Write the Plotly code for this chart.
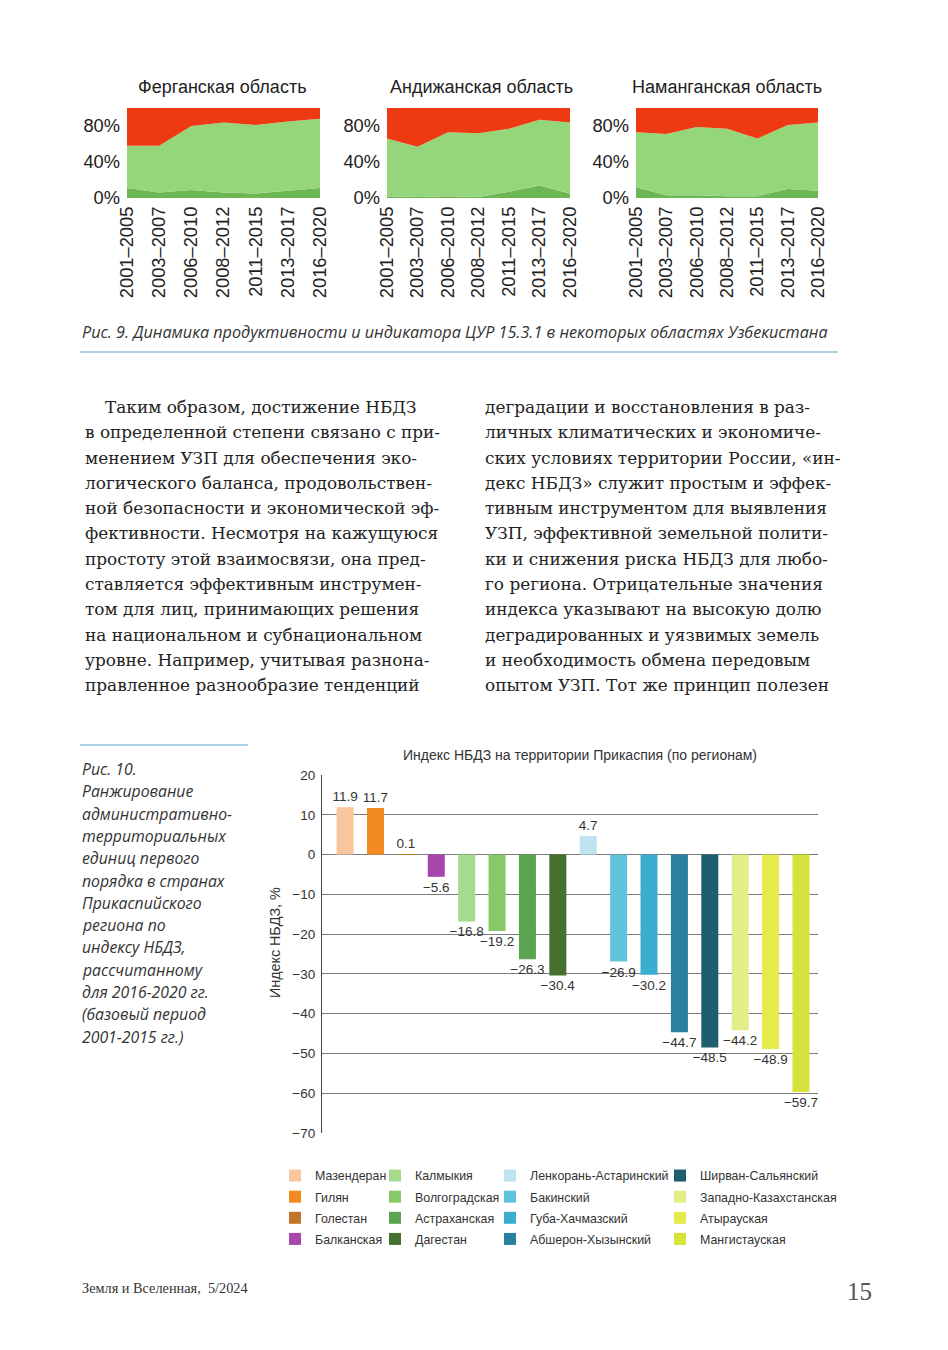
import plotly.graph_objects as go

W, H = 948, 1350
OFF = 8  # page body offset of the rendered figure
def px(x): return (x - OFF) / W
def py(y): return 1 - (y - OFF) / H

SANS = "Liberation Sans"
SERIF = "DejaVu Serif"
CAP = "Open Sans"

# ---------------- data: Fig. 9 (stacked shares, %) ----------------
periods = ["2001–2005", "2003–2007", "2006–2010", "2008–2012", "2011–2015", "2013–2017", "2016–2020"]
region_titles = ["Ферганская область", "Андижанская область", "Наманганская область"]
fergana_dark = [11, 6, 9, 6, 5, 8, 11]
fergana_light = [47, 52, 71, 78, 76, 77, 77]
fergana_red = [42, 42, 20, 16, 19, 15, 12]
andijan_dark = [2, 1, 2, 1, 7, 14, 5]
andijan_light = [64, 56, 71, 71, 70, 73, 79]
andijan_red = [34, 43, 27, 28, 23, 13, 16]
namangan_dark = [12, 3, 3, 2, 2, 10, 8]
namangan_light = [61, 68, 76, 75, 64, 71, 76]
namangan_red = [27, 29, 21, 23, 34, 19, 16]
area_ticks = [0, 40, 80]
area_ticktext = ["0%", "40%", "80%"]

# ---------------- data: Fig. 10 (LDN index) ----------------
regions = ["Мазендеран", "Гилян", "Голестан", "Балканская",
           "Калмыкия", "Волгоградская", "Астраханская", "Дагестан",
           "Ленкорань-Астаринский", "Бакинский", "Губа-Хачмазский", "Абшерон-Хызынский",
           "Ширван-Сальянский", "Западно-Казахстанская", "Атырауская", "Мангистауская"]
index_values = [11.9, 11.7, 0.1, -5.6, -16.8, -19.2, -26.3, -30.4,
                4.7, -26.9, -30.2, -44.7, -48.5, -44.2, -48.9, -59.7]
bar_colors = ["#F9C59C", "#F28A1F", "#C4732B", "#A747AE",
              "#A6DB8E", "#86C966", "#5DA452", "#46702F",
              "#BFE4EF", "#60C4DF", "#3BAECF", "#2A809F",
              "#1D5E6F", "#E3EE86", "#E5EB4B", "#D6E33A"]
bar_ticks = [20, 10, 0, -10, -20, -30, -40, -50, -60, -70]

fig = go.Figure()

def note(text, x, y, size, family=SANS, color="#222", xanchor="center", angle=0):
    fig.add_annotation(text=text, x=px(x), y=py(y), xref="paper", yref="paper",
                       xanchor=xanchor, yanchor="middle", showarrow=False, textangle=angle,
                       font=dict(family=family, size=size, color=color))

# ---------- Fig. 9 stacked areas ----------
area_sets = [
    (fergana_dark, fergana_light, fergana_red),
    (andijan_dark, andijan_light, andijan_red),
    (namangan_dark, namangan_light, namangan_red),
]
area_domains_x = [(127, 320), (387, 570), (636, 818)]
area_title_x = [222, 481, 727]
area_colors = ["#6CB653", "#96D67B", "#EE3A12"]
for i, series in enumerate(area_sets):
    ax = "" if i == 0 else str(i + 1)
    for s, col in zip(series, area_colors):
        fig.add_trace(go.Scatter(
            x=periods, y=s, mode="lines", stackgroup="g%d" % i,
            line=dict(width=0, color=col), fillcolor=col,
            xaxis="x" + ax, yaxis="y" + ax, showlegend=False, hoverinfo="skip"))
    x0, x1 = area_domains_x[i]
    fig.layout["xaxis" + ax] = dict(
        domain=[px(x0), px(x1)], anchor="y" + ax, type="category", automargin=False,
        range=[0, len(periods) - 1], tickangle=-90, showgrid=False, zeroline=False,
        showline=False, ticks="", ticklabelstandoff=4,
        tickfont=dict(family=SANS, size=18.3, color="#222"))
    fig.layout["yaxis" + ax] = dict(
        domain=[py(198), py(108)], anchor="x" + ax, range=[0, 100], automargin=False,
        tickvals=area_ticks, ticktext=area_ticktext, showgrid=False, zeroline=False,
        showline=False, ticks="", ticklabelstandoff=6,
        tickfont=dict(family=SANS, size=18.3, color="#222"))
    note(region_titles[i], area_title_x[i], 87, 18)

# ---------- Fig. 10 bars ----------
def fmt(v):
    s = "%.1f" % abs(v)
    return ("−" + s) if v < 0 else s

legend_names = ["legend", "legend2", "legend3", "legend4"]
for k, (name, val, col) in enumerate(zip(regions, index_values, bar_colors)):
    fig.add_trace(go.Bar(
        x=[name], y=[val], name=name, marker=dict(color=col, line=dict(width=0)),
        width=0.56, text=[fmt(val)], textposition="outside", cliponaxis=False,
        constraintext="none", textangle=0,
        textfont=dict(family=SANS, size=13.5, color="#333"),
        xaxis="x4", yaxis="y4", legend=legend_names[k // 4], legendgroup=name,
        hoverinfo="skip"))

fig.layout["xaxis4"] = dict(domain=[px(322), px(818)], anchor="y4", type="category",
                            categoryorder="array", categoryarray=regions, automargin=False,
                            range=[-0.76, 15.56], showticklabels=False, showgrid=False,
                            zeroline=False, showline=False, ticks="")
fig.layout["yaxis4"] = dict(domain=[py(1133), py(775)], anchor="x4", range=[-70, 20],
                            automargin=False,
                            tickvals=bar_ticks, showgrid=True, gridcolor="#7a7a7a",
                            gridwidth=1.2, zeroline=True, zerolinecolor="#7a7a7a",
                            zerolinewidth=1.2, showline=True, linecolor="#444",
                            linewidth=1.2, ticks="", ticklabelstandoff=3,
                            tickfont=dict(family=SANS, size=13.5, color="#333"))

note("Индекс НБДЗ на территории Прикаспия (по регионам)", 580, 755, 14, color="#333")
note("Индекс НБДЗ, %", 275, 943, 14.3, color="#333", angle=-90)

legend_x = [275, 375, 490, 660]
layout_legends = {}
for j, ln in enumerate(legend_names):
    layout_legends[ln] = dict(
        x=px(legend_x[j]), y=py(1161), xanchor="left", yanchor="top",
        orientation="v", bgcolor="rgba(0,0,0,0)", borderwidth=0,
        font=dict(family=SANS, size=12.4, color="#333"), tracegroupgap=2.0,
        itemclick=False, itemdoubleclick=False)

# ---------- page texts ----------
cap9 = "Рис. 9. Динамика продуктивности и индикатора ЦУР 15.3.1 в некоторых областях Узбекистана"
note("<i>" + cap9 + "</i>", 80, 332, 16.2, family=CAP, color="#333", xanchor="left")

left_lines = [
    "Таким образом, достижение НБДЗ",
    "в определенной степени связано с при-",
    "менением УЗП для обеспечения эко-",
    "логического баланса, продовольствен-",
    "ной безопасности и экономической эф-",
    "фективности. Несмотря на кажущуюся",
    "простоту этой взаимосвязи, она пред-",
    "ставляется эффективным инструмен-",
    "том для лиц, принимающих решения",
    "на национальном и субнациональном",
    "уровне. Например, учитывая разнона-",
    "правленное разнообразие тенденций",
]
right_lines = [
    "деградации и восстановления в раз-",
    "личных климатических и экономиче-",
    "ских условиях территории России, «ин-",
    "декс НБДЗ» служит простым и эффек-",
    "тивным инструментом для выявления",
    "УЗП, эффективной земельной полити-",
    "ки и снижения риска НБДЗ для любо-",
    "го региона. Отрицательные значения",
    "индекса указывают на высокую долю",
    "деградированных и уязвимых земель",
    "и необходимость обмена передовым",
    "опытом УЗП. Тот же принцип полезен",
]
for i, ln in enumerate(left_lines):
    note(ln, 103 if i == 0 else 83, 407 + i * 25.3, 16.9, family=SERIF, xanchor="left")
for i, ln in enumerate(right_lines):
    note(ln, 483, 407 + i * 25.3, 16.9, family=SERIF, xanchor="left")

cap10 = ["Рис. 10.", "Ранжирование", "административно-", "территориальных",
         "единиц первого", "порядка в странах", "Прикаспийского", "региона по",
         "индексу НБДЗ,", "рассчитанному", "для 2016-2020 гг.", "(базовый период",
         "2001-2015 гг.)"]
for i, ln in enumerate(cap10):
    note("<i>" + ln + "</i>", 80, 769 + i * 22.3, 15.8, family=CAP, color="#333", xanchor="left")

note("Земля и Вселенная,  5/2024", 80, 1288, 14.3, family="Liberation Serif", color="#333",
     xanchor="left")
note("15", 874, 1291, 25, family="Liberation Serif", color="#555", xanchor="right")

shapes = [
    dict(type="line", xref="paper", yref="paper", x0=px(80), x1=px(838), y0=py(352), y1=py(352),
         line=dict(color="#8EC4E2", width=1.5)),
    dict(type="line", xref="paper", yref="paper", x0=px(80), x1=px(248), y0=py(745), y1=py(745),
         line=dict(color="#8EC4E2", width=1.5)),
]

fig.update_layout(width=W, height=H,
                  margin=dict(l=0, r=0, t=0, b=0, pad=0, autoexpand=False),
                  paper_bgcolor="white", plot_bgcolor="white", barmode="overlay",
                  shapes=shapes, **layout_legends)

fig.write_html("out.html")
